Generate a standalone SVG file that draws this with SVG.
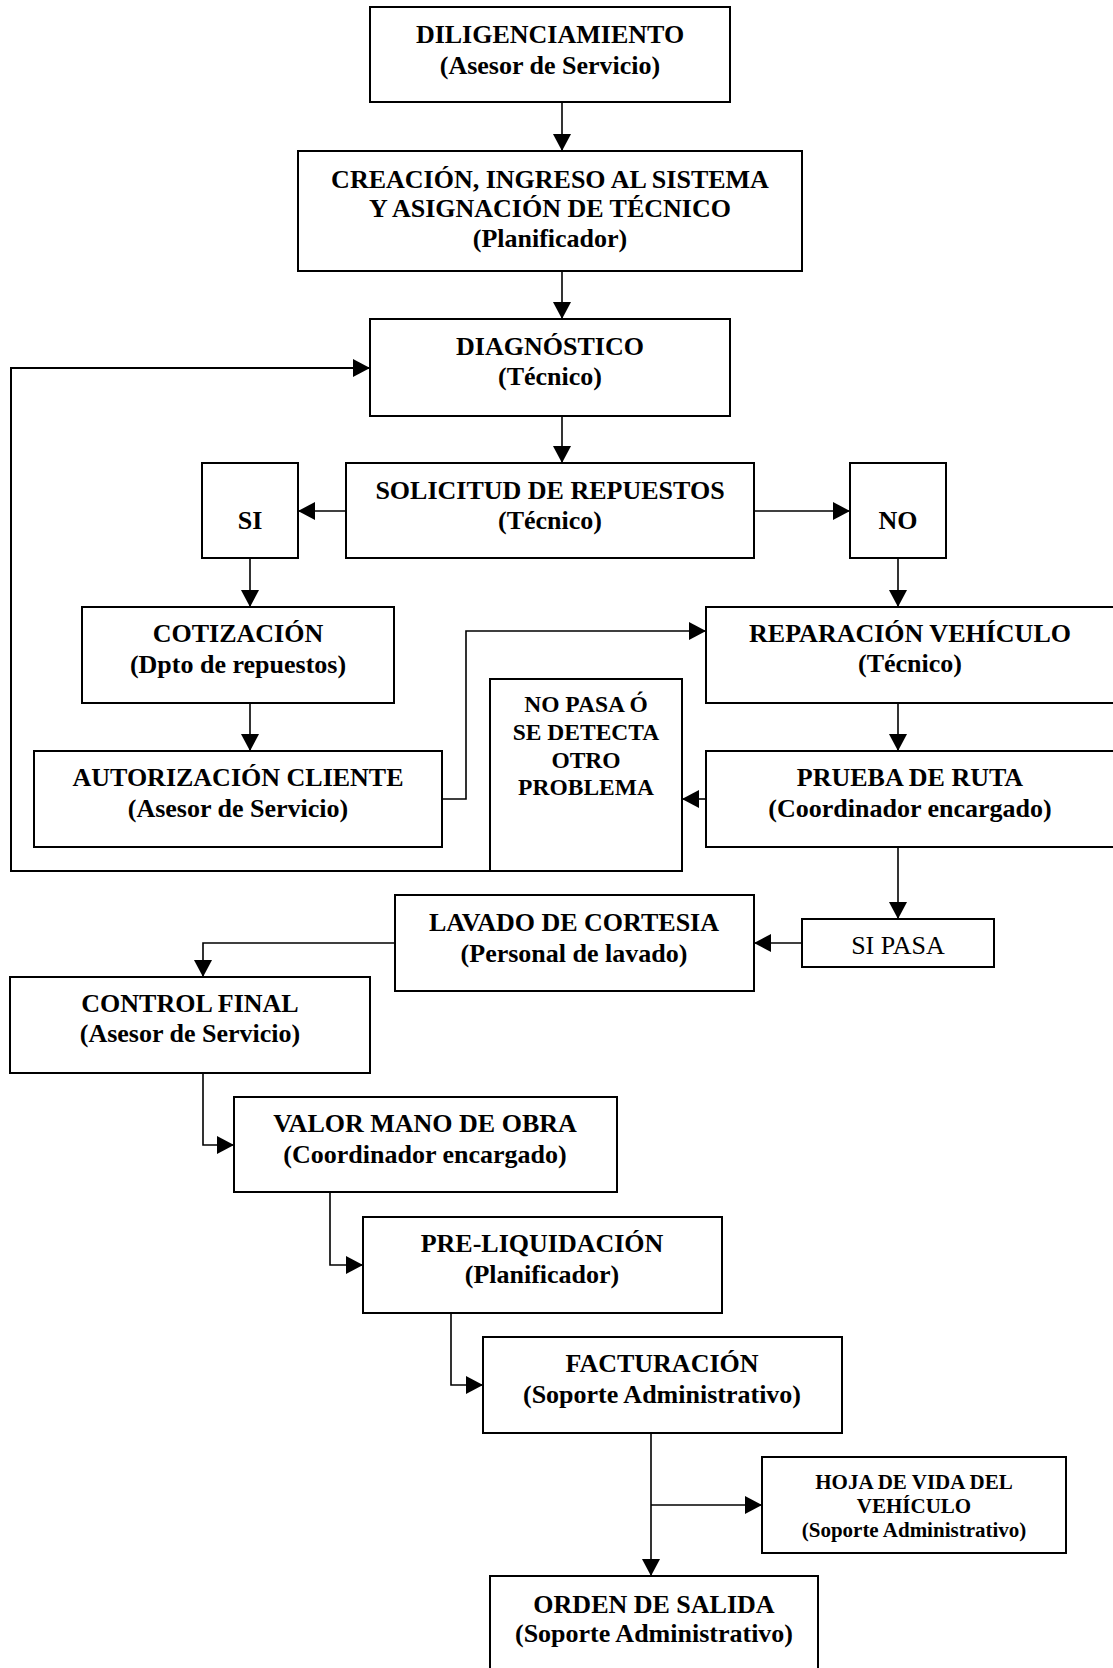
<svg xmlns="http://www.w3.org/2000/svg" width="1113" height="1668" viewBox="0 0 1113 1668">
<style>
rect.b{fill:#fff;stroke:#000;stroke-width:2}
text{font-family:"Liberation Serif","Times New Roman",serif;font-weight:bold;font-size:26px;text-anchor:middle;fill:#000}
text.r{font-weight:normal}
text.s{font-size:23.5px}
text.h{font-size:21px}
.c path{fill:none;stroke:#000;stroke-width:1.6;marker-end:url(#ah)}
.c path.n{marker-end:none}
</style>
<defs>
<marker id="ah" markerUnits="userSpaceOnUse" markerWidth="18" markerHeight="18" refX="17" refY="9" orient="auto">
<path d="M0,0 L17,9 L0,18 z" fill="#000"/>
</marker>
</defs>
<rect width="1113" height="1668" fill="#fff"/>
<g class="c" id="connectors">
<path d="M562,102 V151"/>
<path d="M562,271 V319"/>
<path d="M562,416 V463"/>
<path d="M346,511 H298"/>
<path d="M754,511 H850"/>
<path d="M250,558 V607"/>
<path d="M250,703 V751"/>
<path d="M442,799 H466 V631 H706"/>
<path d="M898,558 V607"/>
<path d="M898,703 V751"/>
<path d="M706,799 H682"/>
<path d="M490,871 H11 V368 H370" style="stroke-width:2"/>
<path d="M898,847 V919"/>
<path d="M802,943 H754"/>
<path d="M395,943 H203 V977"/>
<path d="M203,1073 V1145 H234"/>
<path d="M330,1192 V1265 H363"/>
<path d="M451,1313 V1385 H483"/>
<path d="M651,1433 V1576"/>
<path d="M651,1505 H762"/>
</g>
<g id="diligenciamiento"><rect class="b" x="370" y="7" width="360" height="95"/><text x="550" y="43">DILIGENCIAMIENTO</text><text x="550" y="74">(Asesor de Servicio)</text></g>
<g id="creacion"><rect class="b" x="298" y="151" width="504" height="120"/><text x="550" y="188">CREACIÓN, INGRESO AL SISTEMA</text><text x="550" y="217">Y ASIGNACIÓN DE TÉCNICO</text><text x="550" y="247">(Planificador)</text></g>
<g id="diagnostico"><rect class="b" x="370" y="319" width="360" height="97"/><text x="550" y="355">DIAGNÓSTICO</text><text x="550" y="385">(Técnico)</text></g>
<g id="solicitud"><rect class="b" x="346" y="463" width="408" height="95"/><text x="550" y="499">SOLICITUD DE REPUESTOS</text><text x="550" y="529">(Técnico)</text></g>
<g id="si"><rect class="b" x="202" y="463" width="96" height="95"/><text x="250" y="529">SI</text></g>
<g id="no"><rect class="b" x="850" y="463" width="96" height="95"/><text x="898" y="529">NO</text></g>
<g id="cotizacion"><rect class="b" x="82" y="607" width="312" height="96"/><text x="238" y="642">COTIZACIÓN</text><text x="238" y="673">(Dpto de repuestos)</text></g>
<g id="autorizacion"><rect class="b" x="34" y="751" width="408" height="96"/><text x="238" y="786">AUTORIZACIÓN CLIENTE</text><text x="238" y="817">(Asesor de Servicio)</text></g>
<g id="reparacion"><rect class="b" x="706" y="607" width="410" height="96"/><text x="910" y="642">REPARACIÓN VEHÍCULO</text><text x="910" y="672">(Técnico)</text></g>
<g id="nopasa"><rect class="b" x="490" y="679" width="192" height="192"/><text class="s" x="586" y="712">NO PASA Ó</text><text class="s" x="586" y="740">SE DETECTA</text><text class="s" x="586" y="768">OTRO</text><text class="s" x="586" y="795">PROBLEMA</text></g>
<g id="prueba"><rect class="b" x="706" y="751" width="410" height="96"/><text x="910" y="786">PRUEBA DE RUTA</text><text x="910" y="817">(Coordinador encargado)</text></g>
<g id="sipasa"><rect class="b" x="802" y="919" width="192" height="48"/><text class="r" x="898" y="954">SI PASA</text></g>
<g id="lavado"><rect class="b" x="395" y="895" width="359" height="96"/><text x="574" y="931">LAVADO DE CORTESIA</text><text x="574" y="962">(Personal de lavado)</text></g>
<g id="control"><rect class="b" x="10" y="977" width="360" height="96"/><text x="190" y="1012">CONTROL FINAL</text><text x="190" y="1042">(Asesor de Servicio)</text></g>
<g id="valor"><rect class="b" x="234" y="1097" width="383" height="95"/><text x="425" y="1132">VALOR MANO DE OBRA</text><text x="425" y="1163">(Coordinador encargado)</text></g>
<g id="preliquidacion"><rect class="b" x="363" y="1217" width="359" height="96"/><text x="542" y="1252">PRE-LIQUIDACIÓN</text><text x="542" y="1283">(Planificador)</text></g>
<g id="facturacion"><rect class="b" x="483" y="1337" width="359" height="96"/><text x="662" y="1372">FACTURACIÓN</text><text x="662" y="1403">(Soporte Administrativo)</text></g>
<g id="hoja"><rect class="b" x="762" y="1457" width="304" height="96"/><text class="h" x="914" y="1489">HOJA DE VIDA DEL</text><text class="h" x="914" y="1513">VEHÍCULO</text><text class="h" x="914" y="1537">(Soporte Administrativo)</text></g>
<g id="orden"><rect class="b" x="490" y="1576" width="328" height="100"/><text x="654" y="1613">ORDEN DE SALIDA</text><text x="654" y="1642">(Soporte Administrativo)</text></g>
</svg>
